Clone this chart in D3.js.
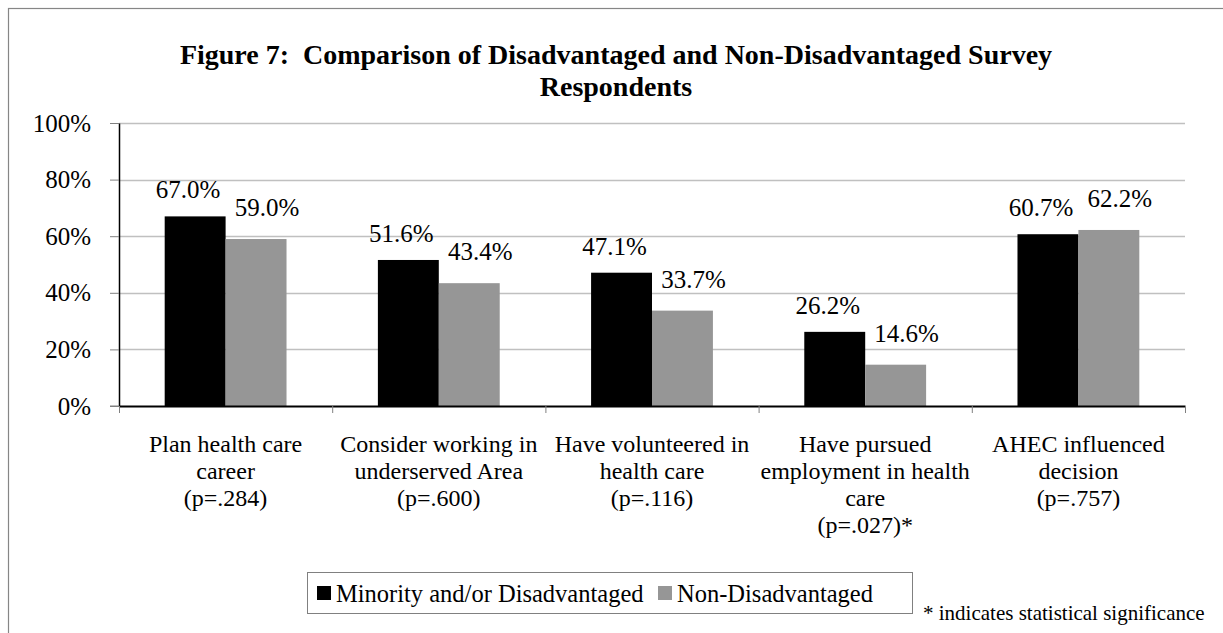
<!DOCTYPE html>
<html>
<head>
<meta charset="utf-8">
<script src="https://cdn.jsdelivr.net/npm/d3@7"></script>
<style>
  html, body { margin: 0; padding: 0; background: #fff; }
  svg { display: block; }
</style>
</head>
<body>
<svg id="chart" width="1223" height="633"></svg>
<script>
// ---- data ----
const titleLines = ["Figure 7:  Comparison of Disadvantaged and Non-Disadvantaged Survey", "Respondents"];
const categories = [
  ["Plan health care", "career", "(p=.284)"],
  ["Consider working in", "underserved Area", "(p=.600)"],
  ["Have volunteered in", "health care", "(p=.116)"],
  ["Have pursued", "employment in health", "care", "(p=.027)*"],
  ["AHEC influenced", "decision", "(p=.757)"]
];
const seriesNames = ["Minority and/or Disadvantaged", "Non-Disadvantaged"];
const disadvantaged = [0.670, 0.516, 0.471, 0.262, 0.607];
const nonDisadvantaged = [0.590, 0.434, 0.337, 0.146, 0.622];
const yTicks = [0, 0.2, 0.4, 0.6, 0.8, 1.0];
const seriesColors = ["#000000", "#969696"];
const note = "* indicates statistical significance";

// ---- layout ----
const FONT = '"Liberation Serif", "Times New Roman", serif';
const svg = d3.select("#chart").style("font-family", FONT);
const plot = { left: 119, right: 1185, top: 123, bottom: 406 };

// outer frame (extends past right/bottom edges)
svg.append("rect")
  .attr("x", 8.5).attr("y", 8.5).attr("width", 1400).attr("height", 800)
  .attr("fill", "none").attr("stroke", "#868686").attr("stroke-width", 1.2);

// title
svg.append("g").selectAll("text").data(titleLines).join("text")
  .attr("x", 616).attr("y", (d, i) => 64 + i * 32)
  .attr("text-anchor", "middle")
  .style("font-family", FONT)
  .style("font-size", "28px").style("font-weight", "bold").style("white-space", "pre")
  .text(d => d);

const catIdx = categories.map((d, i) => i);
const x0 = d3.scaleBand().domain(catIdx).range([plot.left, plot.right]).padding(0);
const x1 = d3.scaleBand().domain([0, 1]).range([0, x0.bandwidth()]).paddingInner(0).paddingOuter(0.75);
const y = d3.scaleLinear().domain([0, 1]).range([plot.bottom, plot.top]);

// gridlines
svg.append("g").selectAll("line").data(yTicks.filter(d => d > 0)).join("line")
  .attr("x1", plot.left).attr("x2", plot.right)
  .attr("y1", d => Math.round(y(d)) + 0.5).attr("y2", d => Math.round(y(d)) + 0.5)
  .attr("stroke", "#c0c0c0").attr("stroke-width", 1.3);

// bars
const seriesData = [disadvantaged, nonDisadvantaged];
const barG = svg.append("g");
seriesData.forEach((vals, s) => {
  barG.append("g").selectAll("rect").data(vals).join("rect")
    .attr("x", (d, i) => x0(i) + x1(s))
    .attr("y", d => y(d))
    .attr("width", x1.bandwidth())
    .attr("height", d => y(0) - y(d))
    .attr("fill", seriesColors[s]);
});

// value labels (series labels spread apart slightly, as in the original)
const labelDx = [-7, 11];
const labelDy = [18, 23];
seriesData.forEach((vals, s) => {
  svg.append("g").selectAll("text").data(vals).join("text")
    .attr("x", (d, i) => x0(i) + x1(s) + x1.bandwidth() / 2 + labelDx[s])
    .attr("y", d => y(d) - labelDy[s])
    .attr("text-anchor", "middle")
    .style("font-family", FONT)
    .style("font-size", "25px")
    .text(d => d3.format(".1%")(d));
});

// y axis
const yAxis = d3.axisLeft(y).tickValues(yTicks).tickFormat(d3.format(".0%"))
  .tickSizeInner(9).tickSizeOuter(0).tickPadding(19);
const yg = svg.append("g").attr("transform", `translate(${plot.left},0)`).call(yAxis);
yg.attr("font-family", FONT);
yg.select(".domain").attr("stroke", "#000").attr("stroke-width", 1.5);
yg.selectAll(".tick line").attr("stroke", "#808080");
yg.selectAll(".tick text").style("font-family", FONT).style("font-size", "25px").attr("fill", "#000");

// x axis (ticks at category boundaries)
const xb = d3.scaleLinear().domain([0, categories.length]).range([plot.left, plot.right]);
const xAxis = d3.axisBottom(xb).tickValues(d3.range(categories.length + 1)).tickFormat("")
  .tickSizeInner(7).tickSizeOuter(0);
const xg = svg.append("g").attr("transform", `translate(0,${plot.bottom})`).call(xAxis);
xg.select(".domain").attr("stroke", "#000").attr("stroke-width", 1.8);
xg.selectAll(".tick line").attr("stroke", "#808080");
// extend axis line to the 0% tick
svg.append("line").attr("x1", plot.left - 9).attr("x2", plot.left)
  .attr("y1", plot.bottom).attr("y2", plot.bottom).attr("stroke", "#808080");

// category labels
const catG = svg.append("g").selectAll("g").data(categories).join("g");
catG.selectAll("text").data((d, i) => d.map(t => ({ t, i }))).join("text")
  .attr("x", d => x0(d.i) + x0.bandwidth() / 2)
  .attr("y", (d, j) => 452 + j * 27)
  .attr("text-anchor", "middle")
  .style("font-family", FONT)
  .style("font-size", "24px")
  .text(d => d.t);

// legend
const lg = svg.append("g");
lg.append("rect").attr("x", 307.5).attr("y", 572.5).attr("width", 605).attr("height", 41)
  .attr("fill", "#fff").attr("stroke", "#808080");
const legendX = [317, 658];
seriesNames.forEach((name, s) => {
  lg.append("rect").attr("x", legendX[s]).attr("y", 586).attr("width", 14).attr("height", 14)
    .attr("fill", seriesColors[s]);
  lg.append("text").attr("x", legendX[s] + 19).attr("y", 602)
    .style("font-family", FONT)
    .style("font-size", "24.5px").text(name);
});

// note
svg.append("text").attr("x", 923).attr("y", 620)
  .style("font-family", FONT).style("font-size", "21px").text(note);
</script>
</body>
</html>
